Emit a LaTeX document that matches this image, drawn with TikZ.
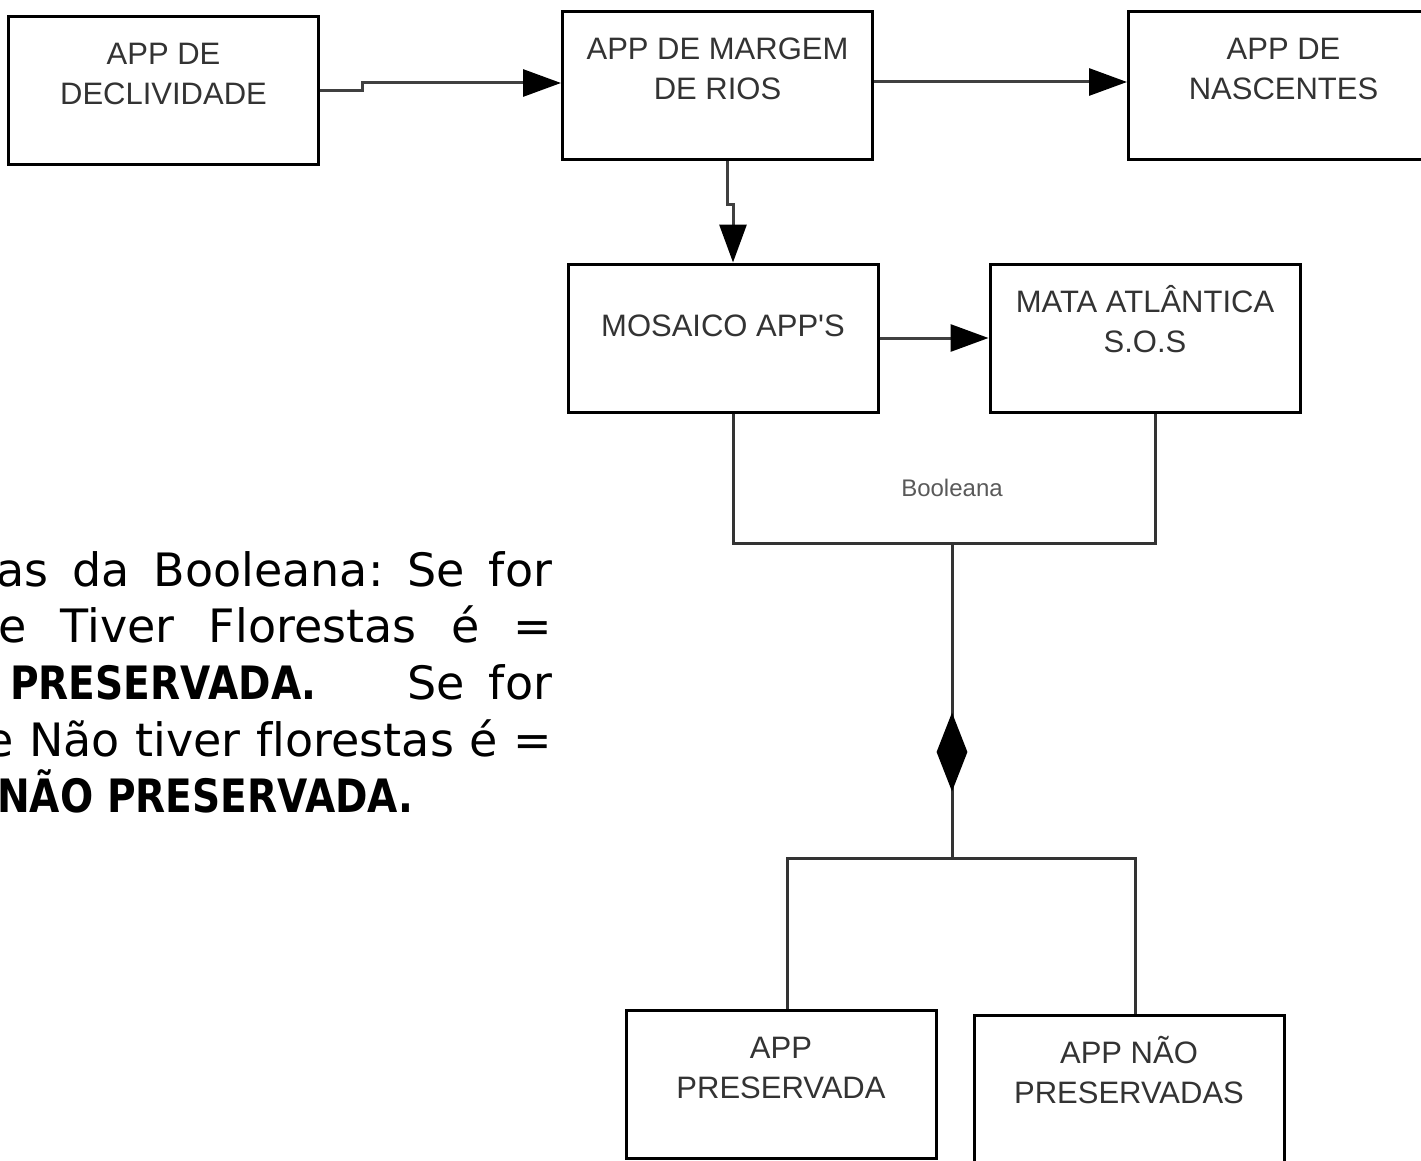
\documentclass[tikz,border=0pt]{standalone}
\usepackage{fontspec}
\usepackage{tikz}
\usetikzlibrary{shapes.geometric, arrows.meta, positioning}
\setmainfont{Liberation Sans}
\newfontfamily\notefont{DejaVu Sans}[Ligatures={NoCommon},BoldFeatures={FakeStretch=0.85}]
\newcommand{\boxfont}{\fontsize{31}{40}\selectfont}
\newcommand{\boxtxt}[2][14pt]{\raisebox{#1}[\height][\depth]{\begin{tabular}{@{}c@{}}#2\end{tabular}}}
\frenchspacing
\tikzset{
  box/.style={rectangle,draw=black,line width=3pt,
              minimum width=310pt,minimum height=148pt,
              inner sep=0pt,font=\boxfont,text=black!80},
  arr/.style={-{Triangle[length=38pt,width=27pt,color=black]},line width=3pt,draw=black!75},
  ln/.style={line width=3pt,draw=black!80},
  dmd/.style={diamond,fill=black,draw=none,inner sep=0pt,aspect=0.4,
              minimum width=31pt,minimum height=79pt},
  note/.style={inner sep=0pt,anchor=base west,font=\notefont\fontsize{46}{56}\selectfont},
}

\begin{document}
\begin{tikzpicture}[x=1pt,y=-1pt]
  \useasboundingbox (0,0) rectangle (1421,1161);
  \clip (0,0) rectangle (1421,1161);
  % upper row
  \node[box](margem) at (717.5,86){\boxtxt{APP DE MARGEM\\DE RIOS}};
  \node[box,left=241pt of margem,yshift=-4.5pt](decl){\boxtxt{APP DE\\DECLIVIDADE}};
  \node[box,right=253pt of margem](nasc){\boxtxt{APP DE\\NASCENTES}};
  \node[box,below=101pt of margem,xshift=5.5pt](mosaico){\boxtxt[10pt]{MOSAICO APP\textquotesingle S}};
  \node[box,right=109pt of mosaico](mata){\boxtxt{MATA ATLÂNTICA\\S.O.S}};
  % results
  \node[box](pres) at (781,1084.5){\boxtxt{APP\\PRESERVADA}};
  \node[box,right=35pt of pres,yshift=-5pt](naopres){\boxtxt{APP NÃO\\PRESERVADAS}};

  \draw[arr](decl.east)--++(42,0)|-([yshift=3]margem.west);
  \draw[arr]([yshift=4]margem.east)--([yshift=4]margem.east -| nasc.west);
  \draw[arr]([xshift=9.5]margem.south)--++(0,43)-|([xshift=10]mosaico.north);
  \draw[arr](mosaico.east)--(mosaico.east -| mata.west);

  % booleana
  \coordinate(bjoin) at (952,543);
  \coordinate(split) at (952,858);
  \draw[ln]([xshift=10]mosaico.south)|-(bjoin)-|([xshift=10]mata.south);
  \node[font=\fontsize{24}{28}\selectfont,text=black!65](boolabel) at (952,488){Booleana};
  \draw[ln](bjoin)--(split);
  \node[dmd](losango) at (952,752){};
  \draw[ln](split)-|([xshift=6]pres.north);
  \draw[ln](split)-|([xshift=6]naopres.north);

  % regra
  \node[note](l1) at (-4,586){\makebox[556pt][s]{as da Booleana: Se for}};
  \node[note](l2) at (-2,642){\makebox[554pt][s]{e Tiver Florestas é =}};
  \node[note](l3) at (10,699){\makebox[542pt][l]{\textbf{PRESERVADA.}\hfill Se\hspace{24pt}for}};
  \node[note](l4) at (-15,756){\makebox[567pt][s]{e Não tiver florestas é =}};
  \node[note](l5) at (-3,812){\textbf{NÃO PRESERVADA.}};
\end{tikzpicture}
\end{document}
